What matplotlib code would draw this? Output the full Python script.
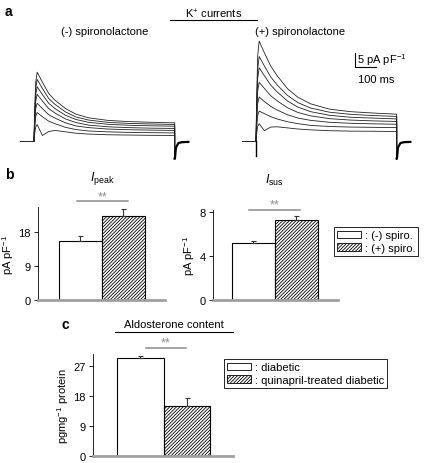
import matplotlib
matplotlib.use("Agg")
import matplotlib.pyplot as plt
from matplotlib.patches import Patch
from matplotlib.lines import Line2D

plt.rcParams['font.family'] = ['Liberation Sans', 'DejaVu Sans']
plt.rcParams['mathtext.fontset'] = 'custom'
plt.rcParams['mathtext.rm'] = 'Liberation Sans'
plt.rcParams['mathtext.it'] = 'Liberation Sans:italic'
plt.rcParams['mathtext.bf'] = 'Liberation Sans:bold'
plt.rcParams['hatch.linewidth'] = 0.6

# ---------------- data ----------------
trace_t = [0, 3, 8, 15, 40, 70, 100, 150, 200, 260, 350, 450, 560, 670]
left_traces = [
    [0, 9.8, 20.7, 24.4, 20.8, 16.8, 14.4, 11.4, 9.4, 8.1, 7.2, 6.75, 6.5, 6.3],
    [0, 8.7, 18.5, 21.8, 18.6, 15.0, 12.9, 10.2, 8.4, 7.3, 6.5, 6.1, 5.9, 5.7],
    [0, 7.7, 16.3, 19.2, 16.4, 13.3, 11.4, 9.0, 7.5, 6.5, 5.8, 5.45, 5.25, 5.1],
    [0, 6.6, 14.0, 16.5, 14.1, 11.4, 9.8, 7.7, 6.4, 5.5, 4.9, 4.6, 4.4, 4.3],
    [0, 5.3, 11.3, 13.3, 11.4, 9.2, 8.0, 6.3, 5.2, 4.6, 4.1, 3.85, 3.7, 3.6],
    [0, 4.0, 8.5, 10.0, 8.5, 6.9, 6.0, 4.7, 3.9, 3.4, 3.1, 2.9, 2.8, 2.7],
    [0, 2.3, 4.8, 5.7, 1.8, 3.2, 3.6, 3.1, 2.6, 2.3, 2.05, 1.95, 1.85, 1.8],
]
right_traces = [
    [0, 14.2, 30.2, 35.5, 31.3, 26.6, 23.2, 18.5, 15.4, 13.1, 11.2, 10.3, 9.8, 9.4],
    [0, 12.0, 25.5, 30.0, 26.6, 22.7, 19.9, 16.1, 13.5, 11.6, 10.1, 9.35, 8.9, 8.6],
    [0, 10.4, 22.1, 26.0, 23.1, 19.8, 17.4, 14.1, 11.9, 10.3, 9.0, 8.3, 8.0, 7.7],
    [0, 8.3, 17.7, 20.8, 18.6, 16.0, 14.2, 11.7, 10.0, 8.8, 7.8, 7.3, 7.0, 6.8],
    [0, 6.2, 13.2, 15.5, 13.9, 12.2, 10.9, 9.2, 8.0, 7.2, 6.5, 6.15, 5.95, 5.8],
    [0, 4.2, 8.9, 10.5, 9.6, 8.5, 7.7, 6.7, 6.0, 5.4, 5.0, 4.8, 4.7, 4.6],
    [0, 2.4, 5.0, 6.0, 3.5, 4.8, 4.9, 4.5, 4.1, 3.8, 3.5, 3.35, 3.3, 3.2],
]
base_t = [-67, 0]
base_v = [0, 0]
tail_t = [670, 671, 676, 688, 705, 735]
tail_v = [-6.5, -6.5, -2.5, -0.9, -0.6, -0.5]
right_artifact = [-5.5, 0]

group_labels = [': (-) spiro.', ': (+) spiro.']
peak_means = [15.6, 22.3]
peak_err = [1.3, 1.8]
sus_means = [5.2, 7.3]
sus_err = [0.2, 0.35]

aldo_labels = [': diabetic', ': quinapril-treated diabetic']
aldo_means = [29.4, 15.0]
aldo_err = [0.6, 2.4]

# ---------------- figure ----------------
W, H = 428, 464
fig = plt.figure(figsize=(W / 100, H / 100), dpi=100)


def fx(px):
    return px / W


def fy(py):
    return 1 - py / H


FS = 8
DARK = '#222222'
GREY = '#8c8c8c'
HATCH = '//////////'

# ---- panel a: traces ----
axA = fig.add_axes([0, fy(165), 1, 165 / H])
axA.axis('off')
axA.set_xlim(-34 / 0.21, (W - 34) / 0.21)
axA.set_ylim((141.5 - 165) / 2.8, 141.5 / 2.8)
offsets = [0, (256 - 34) / 0.21]
for off, traces in zip(offsets, [left_traces, right_traces]):
    axA.plot([b + off for b in base_t], base_v, color=DARK, lw=0.7)
    for tr in traces:
        xs = [t + off for t in trace_t] + [trace_t[-1] + off]
        ys = list(tr) + [tail_v[0]]
        axA.plot(xs, ys, color=DARK, lw=0.6)
    axA.plot([t + off for t in tail_t], tail_v, color='black', lw=1.6)
axA.plot([offsets[1], offsets[1]], right_artifact, color='black', lw=1.0)

# scale bar
sbx = (355 - 34) / 0.21
sby = (141.5 - 68) / 2.8
axA.plot([sbx, sbx, sbx + 100], [sby + 5, sby, sby], color='black', lw=0.8)
axA.text(sbx + 9, sby + 2.9, r'5 pA pF$^{-1}$', fontsize=FS, va='center', ha='left')
axA.text(sbx + 14, sby - 4.4, '100 ms', fontsize=FS, va='center', ha='left')

fig.text(fx(5), fy(12), 'a', fontsize=10, fontweight='bold', va='center')
fig.text(fx(214), fy(14), r'K$^{+}$ currents', fontsize=FS, ha='center', va='center')
fig.add_artist(Line2D([fx(170), fx(257)], [fy(21), fy(21)], color='black', lw=0.8))
fig.text(fx(105), fy(32), '(-) spironolactone', fontsize=FS, ha='center', va='center')
fig.text(fx(300), fy(32), '(+) spironolactone', fontsize=FS, ha='center', va='center')


def bar_axes(rect, means, errs, ylim, yticks, ylabel, xlim):
    ax = fig.add_axes(rect)
    ax.bar([0, 1], means, width=1.0, color='white', edgecolor='black', lw=0.8,
           hatch=['', HATCH], zorder=2)
    ax.errorbar([0, 1], means, yerr=[[0, 0], errs], fmt='none', ecolor='#333333',
                elinewidth=0.8, capsize=1.8, capthick=0.8, zorder=3)
    ax.set_xlim(*xlim)
    ax.set_ylim(*ylim)
    ax.set_yticks(yticks)
    ax.set_yticklabels([str(v) for v in yticks])
    ax.set_xticks([])
    ax.tick_params(axis='y', labelsize=FS, length=3, width=0.6, pad=2)
    for s in ['top', 'right']:
        ax.spines[s].set_visible(False)
    ax.spines['left'].set_linewidth(0.6)
    ax.spines['bottom'].set_color('#a0a0a0')
    ax.spines['bottom'].set_linewidth(2.0)
    ax.spines['bottom'].set_zorder(4)
    ax.set_ylabel(ylabel, fontsize=FS, labelpad=2)
    return ax


def sig(ax, x0, x1, y, ystar):
    ax.plot([x0, x1], [y, y], color=GREY, lw=1.1, clip_on=False)
    ax.text((x0 + x1) / 2, ystar, '**', color=GREY, fontsize=9, ha='center',
            va='center', clip_on=False)


# ---- panel b ----
axB1 = bar_axes([fx(38), fy(301), fx(165) - fx(38), 24.5 * 3.78 / H],
                peak_means, peak_err, (0, 24.5), [0, 9, 18], r'pA pF$^{-1}$',
                (-0.99, 1.97))
sig(axB1, -0.08, 1.1, (301 - 202) / 3.78, (301 - 197) / 3.78)
axB1.text(0.5, (301 - 179) / 3.78, r'$\mathit{I}_{\rm peak}$', fontsize=9,
          ha='center', va='center', clip_on=False)

axB2 = bar_axes([fx(213), fy(301), fx(338) - fx(213), 8.2 * 11 / H],
                sus_means, sus_err, (0, 8.2), [0, 4, 8], r'pA pF$^{-1}$',
                (-0.94, 1.97))
sig(axB2, -0.1, 1.08, (301 - 211) / 11, (301 - 205) / 11)
axB2.text(0.5, (301 - 180) / 11, r'$\mathit{I}_{\rm sus}$', fontsize=9,
          ha='center', va='center', clip_on=False)

fig.text(fx(5), fy(175), 'b', fontsize=10, fontweight='bold', va='center')

handles_b = [Patch(facecolor='white', edgecolor='black', lw=0.6),
             Patch(facecolor='white', edgecolor='black', lw=0.6, hatch=HATCH)]
legB = fig.legend(handles_b, group_labels, loc='upper left',
                  bbox_to_anchor=(fx(334), fy(228)), fontsize=FS,
                  frameon=True, fancybox=False, framealpha=1,
                  edgecolor='black', borderpad=0.3, handlelength=2.1,
                  handleheight=0.7, handletextpad=0.35, labelspacing=0.2,
                  borderaxespad=0)
legB.get_frame().set_linewidth(0.6)

# ---- panel c ----
axC = bar_axes([fx(93), fy(457), fx(233) - fx(93), 30.6 * 3.333 / H],
               aldo_means, aldo_err, (0, 30.6), [0, 9, 18, 27],
               r'pgmg$^{-1}$ protein', (-1.02, 1.99))
sig(axC, 0.11, 0.97, (457 - 349) / 3.333, (457 - 343) / 3.333)

fig.text(fx(62), fy(325), 'c', fontsize=10, fontweight='bold', va='center')
fig.text(fx(174), fy(325), 'Aldosterone content', fontsize=FS, ha='center', va='center')
fig.add_artist(Line2D([fx(115), fx(233)], [fy(333), fy(333)], color='black', lw=0.8))

legC = fig.legend(handles_b, aldo_labels, loc='upper left',
                  bbox_to_anchor=(fx(224), fy(360)), fontsize=FS,
                  frameon=True, fancybox=False, framealpha=1,
                  edgecolor='black', borderpad=0.3, handlelength=2.1,
                  handleheight=0.7, handletextpad=0.35, labelspacing=0.2,
                  borderaxespad=0)
legC.get_frame().set_linewidth(0.6)

fig.savefig('out.png', dpi=100)
